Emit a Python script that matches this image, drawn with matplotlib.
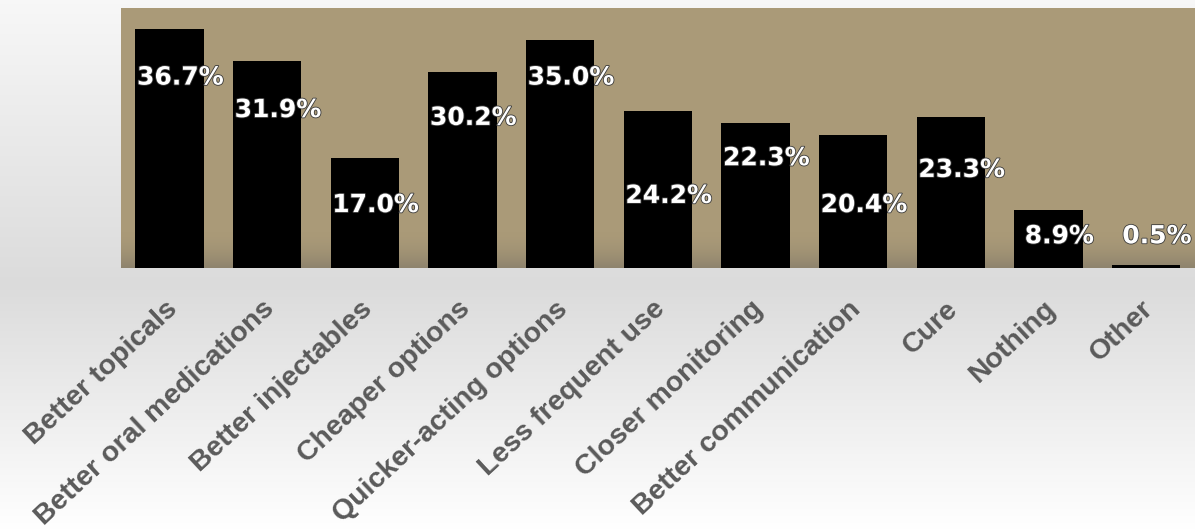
import numpy as np
import matplotlib
matplotlib.use("Agg")
import matplotlib.pyplot as plt
import matplotlib.patheffects as pe
import matplotlib.transforms as mtransforms

categories = ["Better topicals", "Better oral medications", "Better injectables",
              "Cheaper options", "Quicker-acting options", "Less frequent use",
              "Closer monitoring", "Better communication", "Cure", "Nothing", "Other"]
values = [36.7, 31.9, 17.0, 30.2, 35.0, 24.2, 22.3, 20.4, 23.3, 8.9, 0.5]
# where each value label sits, in data units
label_y = [29.3, 24.3, 9.7, 23.1, 29.3, 11.1, 16.9, 9.7, 15.1, 4.9, 4.9]

fig = plt.figure(figsize=(11.95, 5.30), dpi=100)

# soft grey-to-white backdrop
bg = fig.add_axes([0, 0, 1, 1], zorder=0)
rows = np.concatenate([np.linspace(0.97, 0.86, 285), np.linspace(0.86, 1.0, 245)])
grad = np.minimum(rows[:, None] * np.ones((1, 50)), 1.0)
bg.imshow(np.dstack([grad] * 3), aspect="auto", extent=[0, 1, 0, 1])
bg.set_axis_off()

ax = fig.add_axes([0.101, 0.494, 0.899, 0.491], zorder=1)
ax.set_facecolor("#aa9a78")
x = np.arange(len(categories))
ax.bar(x, values, width=0.7, color="black", zorder=2)

# darker haze along the floor of the plot area
haze = np.linspace(0, 1, 60)[:, None] ** 2
ax.imshow(np.dstack([np.full_like(haze, 0.35)] * 3 + [haze * 0.35]),
          aspect="auto", extent=[-0.5, 10.5, 0, 6], zorder=1)

for xi, v, ly in zip(x, values, label_y):
    ax.text(xi + 0.11, ly, f"{v:.1f}%", ha="center", va="center", color="white",
            fontsize=18, fontweight="bold", family="DejaVu Sans", zorder=3,
            path_effects=[pe.withStroke(linewidth=1.2, foreground="#3a3a3a")])

ax.set_xlim(-0.5, 10.5)
ax.set_ylim(0, 40)
ax.set_yticks([])
ax.set_xticks(x)
ax.set_xticklabels(categories, rotation=43, ha="right", rotation_mode="anchor",
                   fontsize=20.5, fontweight="bold", color="#5a5a5a",
                   family="Liberation Sans")
ax.tick_params(axis="x", length=0, pad=20)
shift = mtransforms.ScaledTranslation(-5 / 100, 0, fig.dpi_scale_trans)
for lbl in ax.get_xticklabels():
    lbl.set_transform(lbl.get_transform() + shift)
for s in ax.spines.values():
    s.set_visible(False)

fig.savefig("out.png", dpi=100)
